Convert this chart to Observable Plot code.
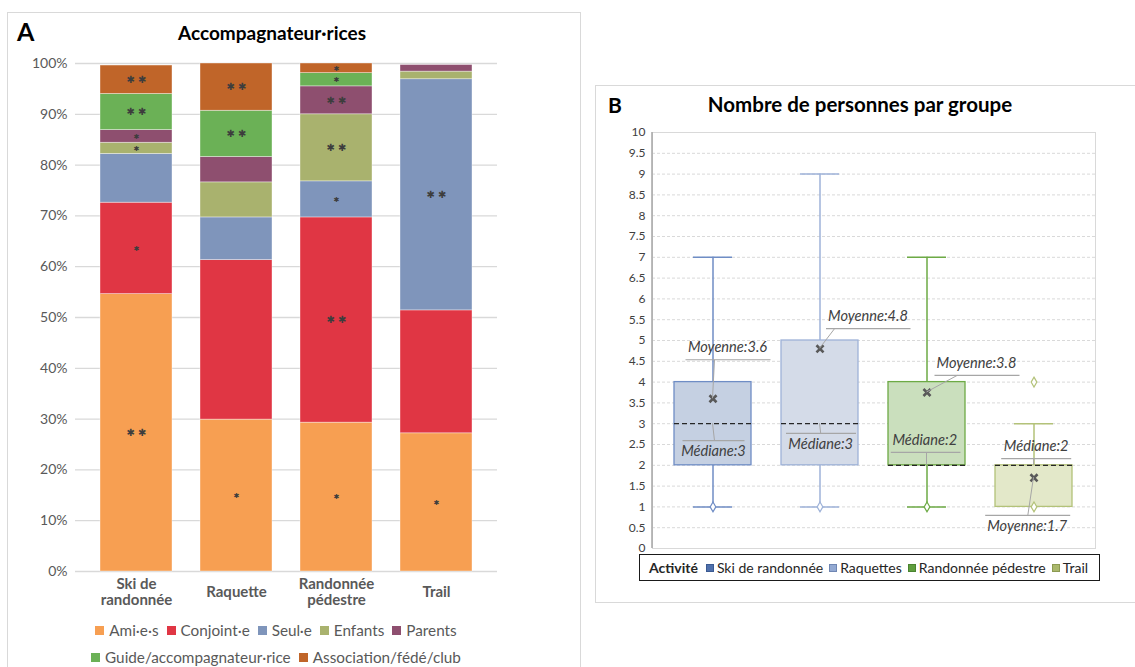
<!DOCTYPE html>
<html>
<head>
<meta charset="utf-8">
<script src="https://cdn.jsdelivr.net/npm/d3@7"></script>
<script src="https://cdn.jsdelivr.net/npm/@observablehq/plot@0.6"></script>
<style>
  body { margin:0; width:1135px; height:667px; overflow:hidden; position:relative; background:#fff; font-family:Lato, sans-serif; }
  .abs { position:absolute; }
  .legA { position:absolute; left:0; width:552px; display:flex; justify-content:center; align-items:center; font-size:15.3px; line-height:18px; color:#595959; white-space:nowrap; }
  .legA .it { display:flex; align-items:center; margin:0 4px; }
  .legA .sw { width:9px; height:9px; margin-right:5px; }
  .legB { position:absolute; left:639px; top:554px; width:459px; height:25px; border:1px solid #1a1a1a; display:flex; align-items:center; font-size:14px; color:#262626; white-space:nowrap; box-sizing:content-box; }
  .legB .it { display:flex; align-items:center; margin-right:6px; }
  .legB .sw { width:6px; height:6px; margin-right:3px; border:1px solid; }
</style>
</head>
<body>
<!-- panel borders -->
<div class="abs" style="left:7px;top:12px;width:572px;height:700px;border:1px solid #D9D9D9;"></div>
<div class="abs" style="left:595px;top:85px;width:560px;height:516px;border:1px solid #D9D9D9;"></div>

<div class="abs" style="left:17px;top:16px;font-size:25px;font-weight:bold;line-height:30px;color:#000;">A</div>
<div class="abs" style="left:122px;top:22px;width:300px;text-align:center;font-size:19px;font-weight:bold;line-height:22.8px;color:#000;">Accompagnateur·rices</div>
<div class="abs" style="left:608px;top:92px;font-size:21px;font-weight:bold;line-height:25px;color:#000;">B</div>
<div class="abs" style="left:690px;top:92px;width:340px;text-align:center;font-size:20.5px;font-weight:bold;line-height:24.6px;color:#000;">Nombre de personnes par groupe</div>

<div id="chartA" class="abs" style="left:0;top:50px;"></div>
<div id="chartB" class="abs" style="left:595px;top:120px;"></div>

<div id="legendA1" class="legA" style="top:621px;"></div>
<div id="legendA2" class="legA" style="top:648px;"></div>
<div id="legendB" class="legB"></div>

<script>
// ---------- Panel A data ----------
const activitiesA = ["Ski de randonnée", "Raquette", "Randonnée pédestre", "Trail"];
const xLabelsA = ["Ski de\nrandonnée", "Raquette", "Randonnée\npédestre", "Trail"];
const categoriesA = ["Ami·e·s", "Conjoint·e", "Seul·e", "Enfants", "Parents", "Guide/accompagnateur·rice", "Association/fédé/club"];
const shareSki      = [54.6, 18.0, 9.6, 2.2, 2.5, 7.1, 5.6];
const shareRaquette = [29.9, 31.4, 8.4, 6.9, 5.0, 9.1, 9.3];
const shareRando    = [29.3, 40.4, 7.1, 13.2, 5.5, 2.6, 1.9];
const shareTrail    = [27.2, 24.2, 45.5, 1.5, 1.3, 0, 0];
const signifSki      = ["**", "*", "", "*", "*", "**", "**"];
const signifRaquette = ["*", "", "", "", "", "**", "**"];
const signifRando    = ["*", "**", "*", "**", "**", "*", "*"];
const signifTrail    = ["*", "", "**", "", "", "", ""];
const yTicksA = [0, 10, 20, 30, 40, 50, 60, 70, 80, 90, 100];

// ---------- Panel B data ----------
const activitiesB = ["Ski de randonnée", "Raquettes", "Randonnée pédestre", "Trail"];
const q1B     = [2, 2, 2, 1];
const q3B     = [4, 5, 4, 2];
const medianB = [3, 3, 2, 2];
const meanB   = [3.6, 4.8, 3.75, 1.7];
const meanLabelB = ["3.6", "4.8", "3.8", "1.7"];
const minB    = [1, 1, 1, 1];
const maxB    = [7, 9, 7, 3];
const pointActivityB = ["Ski de randonnée", "Raquettes", "Randonnée pédestre", "Trail", "Trail"];
const pointValueB    = [1, 1, 1, 1, 4];
const yTicksB = [0, 0.5, 1, 1.5, 2, 2.5, 3, 3.5, 4, 4.5, 5, 5.5, 6, 6.5, 7, 7.5, 8, 8.5, 9, 9.5, 10];

// ---------- styles ----------
const colorsA = ["#F79F52", "#E03644", "#7F95BB", "#A9B26E", "#8E4F6F", "#6BB156", "#C06529"];
const boxFill   = {"Ski de randonnée": "#C5D0E2", "Raquettes": "#D4DBE8", "Randonnée pédestre": "#CADFBD", "Trail": "#E3E8C9"};
const boxStroke = {"Ski de randonnée": "#6F8DC5", "Raquettes": "#9EB2D8", "Randonnée pédestre": "#6DAA45", "Trail": "#B3C279"};
const legendSwB = {"Ski de randonnée": ["#4F70AC", "#3B5A92"], "Raquettes": ["#93A9D2", "#6F86B3"], "Randonnée pédestre": ["#5F9E3E", "#4A8430"], "Trail": ["#AAB86C", "#8C9A52"]};
// callout layout: pixel offsets relative to the annotated value (box centre x, y(value))
const calloutLayout = [
  {activity: "Ski de randonnée", kind: "mean",   uy: -38.5, ux1: -27,   ux2: 58,   lx: 2,    tx: 15,   pos: "above"},
  {activity: "Ski de randonnée", kind: "median", uy: 17.5,  ux1: -30,   ux2: 32,   lx: 2,    tx: 1,    pos: "below"},
  {activity: "Raquettes",        kind: "mean",   uy: -19.6, ux1: 6.5,   ux2: 91,   lx: 15,   tx: 48.5, pos: "above"},
  {activity: "Raquettes",        kind: "median", uy: 10.2,  ux1: -33.5, ux2: 36.5, lx: 1.2,  tx: 1.2,  pos: "below"},
  {activity: "Randonnée pédestre", kind: "mean", uy: -16.6, ux1: 8,     ux2: 93,   lx: 30.7, tx: 50,   pos: "above"},
  {activity: "Randonnée pédestre", kind: "median", uy: -12.4, ux1: -35.7, ux2: 34, lx: 0,    tx: -1.7, pos: "above"},
  {activity: "Trail",            kind: "median", uy: -6.1,  ux1: -32.3, ux2: 37.7, lx: 0.3,  tx: 2.7,  pos: "above"},
  {activity: "Trail",            kind: "mean",   uy: 38.1,  ux1: -48.3, ux2: 36.7, lx: -5.7, tx: -6.3, pos: "below"}
];

// ---------- Panel A ----------
const sharesA = [shareSki, shareRaquette, shareRando, shareTrail];
const signifA = [signifSki, signifRaquette, signifRando, signifTrail];
const rowsA = activitiesA.flatMap((a, i) => categoriesA.map((c, j) => ({activity: a, category: c, value: sharesA[i][j], sig: signifA[i][j]})));

const chartA = Plot.plot({
  width: 520, height: 566,
  marginLeft: 75, marginRight: 23, marginTop: 13, marginBottom: 45,
  style: {fontFamily: "Lato", fontSize: "14px", color: "#595959", background: "transparent"},
  x: {type: "band", domain: activitiesA, paddingInner: 0.285, paddingOuter: 0.24, axis: null},
  y: {domain: [0, 100], ticks: yTicksA, tickFormat: d => d + "%", tickSize: 0, tickPadding: 8, label: null},
  color: {domain: categoriesA, range: colorsA},
  marks: [
    Plot.ruleY(yTicksA, {stroke: "#D9D9D9", strokeWidth: 1.3}),
    Plot.barY(rowsA, {x: "activity", y: "value", fill: "category", stroke: "white", strokeWidth: 0.7, strokeOpacity: 0.55}),
    Plot.text(rowsA, Plot.stackY({x: "activity", y: "value", text: d => d.sig === "**" ? "✱ ✱" : "", fontSize: 10, fill: "#3d3d3d", fontFamily: "DejaVu Sans"})),
    Plot.text(rowsA, Plot.stackY({x: "activity", y: "value", text: d => d.sig === "*" ? "✱" : "", fontSize: 7, fill: "#3d3d3d", fontFamily: "DejaVu Sans"})),
    Plot.text(activitiesA, {x: d => d, text: (d, i) => xLabelsA[i], frameAnchor: "bottom", lineAnchor: "middle", dy: 20, fontWeight: "bold", fontSize: 15, lineHeight: 1.07, fill: "#595959"})
  ]
});
document.getElementById("chartA").append(chartA);

// legend A
function legendItem(label, color) {
  const it = document.createElement("div"); it.className = "it";
  const sw = document.createElement("div"); sw.className = "sw"; sw.style.background = color;
  const tx = document.createElement("span"); tx.textContent = label;
  it.append(sw, tx); return it;
}
categoriesA.forEach((c, i) => document.getElementById(i < 5 ? "legendA1" : "legendA2").append(legendItem(c, colorsA[i])));

// ---------- Panel B ----------
const boxRows = activitiesB.map((a, i) => ({activity: a, q1: q1B[i], q3: q3B[i], median: medianB[i], mean: meanB[i], min: minB[i], max: maxB[i], meanLabel: meanLabelB[i]}));
const pointsB = pointActivityB.map((a, i) => ({activity: a, value: pointValueB[i]}));

function callouts(index, scales, values, dimensions) {
  const g = d3.create("svg:g");
  const {marginLeft, marginTop, marginBottom, height} = dimensions;
  g.append("line").attr("x1", marginLeft).attr("x2", marginLeft).attr("y1", marginTop).attr("y2", height - marginBottom)
    .attr("stroke", "#A6A6A6").attr("stroke-width", 1.5);
  const bw = scales.x.bandwidth ? scales.x.bandwidth() : 0;
  for (const c of calloutLayout) {
    const row = boxRows.find(r => r.activity === c.activity);
    const value = c.kind === "mean" ? row.mean : row.median;
    const label = c.kind === "mean" ? "Moyenne:" + row.meanLabel : "Médiane:" + row.median;
    const cx = scales.x(c.activity) + bw / 2;
    const cy = scales.y(value);
    const uy = cy + c.uy;
    g.append("line").attr("x1", cx + c.ux1).attr("x2", cx + c.ux2).attr("y1", uy).attr("y2", uy).attr("stroke", "#A6A6A6").attr("stroke-width", 1.2);
    g.append("line").attr("x1", cx).attr("y1", cy).attr("x2", cx + c.lx).attr("y2", uy).attr("stroke", "#A6A6A6").attr("stroke-width", 1);
    g.append("text").attr("x", cx + c.tx).attr("y", uy + (c.pos === "above" ? -12.5 : 10.5)).attr("dy", "0.35em")
      .attr("text-anchor", "middle").attr("font-style", "italic").attr("font-size", 14.6).attr("fill", "#404040").text(label);
  }
  return g.node();
}

const chartB = Plot.plot({
  width: 520, height: 440,
  marginLeft: 57, marginRight: 20, marginTop: 12, marginBottom: 12,
  style: {fontFamily: "Lato", fontSize: "12px", color: "#404040", background: "transparent"},
  x: {type: "band", domain: activitiesB, paddingInner: 0.278, paddingOuter: 0.203, axis: null},
  y: {domain: [0, 10], ticks: yTicksB, tickSize: 0, tickPadding: 7, label: null, tickFormat: d => String(d)},
  color: {type: "identity"},
  marks: [
    Plot.ruleY(yTicksB.filter(v => v > 0 && v < 10), {stroke: "#D9D9D9", strokeDasharray: "3,2"}),
    Plot.frame({stroke: "#D9D9D9"}),
    Plot.ruleX(boxRows, {x: "activity", y1: "q3", y2: "max", stroke: d => boxStroke[d.activity], strokeWidth: 1.5}),
    Plot.ruleX(boxRows.filter(d => d.min < d.q1), {x: "activity", y1: "min", y2: "q1", stroke: d => boxStroke[d.activity], strokeWidth: 1.5}),
    Plot.tickY(boxRows, {x: "activity", y: "max", insetLeft: 19, insetRight: 19, stroke: d => boxStroke[d.activity], strokeWidth: 1.5}),
    Plot.tickY(boxRows.filter(d => d.min < d.q1), {x: "activity", y: "min", insetLeft: 19, insetRight: 19, stroke: d => boxStroke[d.activity], strokeWidth: 1.5}),
    Plot.barY(boxRows, {x: "activity", y1: "q1", y2: "q3", fill: d => boxFill[d.activity], stroke: d => boxStroke[d.activity], strokeWidth: 1.3}),
    Plot.tickY(boxRows, {x: "activity", y: "median", stroke: "#262626", strokeDasharray: "5,3", strokeWidth: 1.2}),
    Plot.dot(pointsB, {x: "activity", y: "value", symbol: "diamond", r: 3, fill: "white", stroke: d => boxStroke[d.activity], strokeWidth: 1.2}),
    Plot.dot(boxRows, {x: "activity", y: "mean", symbol: "times", r: 3.3, stroke: "#595959", strokeWidth: 2.6}),
    callouts
  ]
});
document.getElementById("chartB").append(chartB);

// legend B
const legB = document.getElementById("legendB");
const head = document.createElement("span"); head.textContent = "Activité"; head.style.fontWeight = "bold"; head.style.margin = "0 8px 0 9px";
legB.append(head);
activitiesB.forEach(a => {
  const it = document.createElement("div"); it.className = "it";
  const sw = document.createElement("div"); sw.className = "sw"; sw.style.background = legendSwB[a][0]; sw.style.borderColor = legendSwB[a][1];
  const tx = document.createElement("span"); tx.textContent = a;
  it.append(sw, tx); legB.append(it);
});
</script>
</body>
</html>
